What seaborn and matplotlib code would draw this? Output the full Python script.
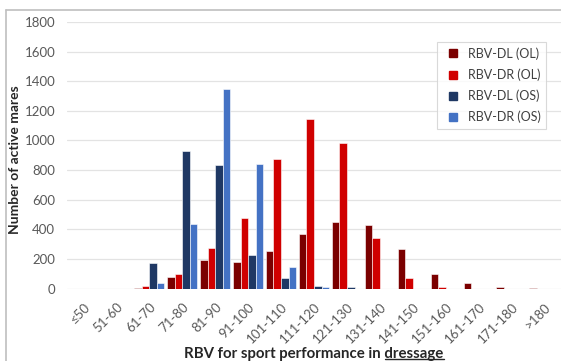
import matplotlib
matplotlib.use("Agg")
import matplotlib.pyplot as plt
import seaborn as sns
import pandas as pd
from matplotlib.lines import Line2D

categories = ["≤50", "51-60", "61-70", "71-80", "81-90", "91-100", "101-110",
              "111-120", "121-130", "131-140", "141-150", "151-160", "161-170",
              "171-180", ">180"]
series_names = ["RBV-DL (OL)", "RBV-DR (OL)", "RBV-DL (OS)", "RBV-DR (OS)"]
dl_ol = [0, 0, 5, 80, 190, 180, 252, 365, 450, 432, 265, 100, 38, 13, 3]
dr_ol = [0, 0, 15, 100, 272, 473, 874, 1146, 986, 340, 73, 10, 0, 0, 0]
dl_os = [0, 0, 175, 929, 837, 223, 74, 15, 7, 0, 0, 0, 0, 0, 0]
dr_os = [0, 0, 40, 433, 1347, 840, 146, 7, 0, 0, 0, 0, 0, 0, 0]
colors = ["#7b0000", "#d00000", "#1f3864", "#4472c4"]

rows = []
for name, vals in zip(series_names, [dl_ol, dr_ol, dl_os, dr_os]):
    for c, v in zip(categories, vals):
        rows.append({"cat": c, "series": name, "value": v})
df = pd.DataFrame(rows)

sns.set_style("white")
plt.rcParams["font.family"] = ["Lato", "DejaVu Sans"]

W, H = 561, 361
fig = plt.figure(figsize=(W/100, H/100), dpi=100)
ax = fig.add_axes([67/W, (H-288.5)/H, 494/W, (288.5-22)/H])

sns.barplot(data=df, x="cat", y="value", hue="series", order=categories,
            hue_order=series_names, palette=colors, width=0.92,
            edgecolor="white", linewidth=0.4, ax=ax, saturation=1)

ax.set_ylim(0, 1800)
ax.set_xlim(-0.5, len(categories) - 0.5)
ax.set_yticks(range(0, 1801, 200))
ax.yaxis.grid(True, color="#e3e3e3", linewidth=0.9)
ax.set_axisbelow(True)
for s in ax.spines.values():
    s.set_visible(False)
ax.tick_params(axis="both", length=0, colors="#595959", labelsize=9.5)
ax.tick_params(axis="y", pad=8.5)
plt.setp(ax.get_xticklabels(), rotation=45, ha="right", va="top",
         rotation_mode="anchor")
ax.tick_params(axis="x", pad=9)

ax.set_ylabel("Number of active mares", fontsize=10, fontweight="bold",
              color="#262626")
ax.yaxis.set_label_coords((15-67)/494, (288.5-160)/266.5)
ax.yaxis.label.set_va("center")
ax.set_xlabel("RBV for sport performance in dressage", fontsize=10.8,
              fontweight="bold", color="#262626")
ax.xaxis.set_label_coords(0.5, (288.5-354)/266.5)
ax.xaxis.label.set_va("center")

handles = [Line2D([], [], marker="s", linestyle="none", markersize=5.2,
                  markerfacecolor=c, markeredgecolor=c) for c in colors]
leg = ax.legend(handles, series_names, loc="upper left",
                bbox_to_anchor=((437-67)/494, (288.5-41.7)/266.5),
                frameon=True, fontsize=9, handlelength=1.6,
                handletextpad=0.4, labelspacing=0.68, borderpad=0.45,
                fancybox=False, edgecolor="#d0d0d0", borderaxespad=0)
for t in leg.get_texts():
    t.set_color("#404040")
leg.get_frame().set_linewidth(0.8)

# chart border (top + left)
fig.add_artist(Line2D([5.5/W, 5.5/W], [0, 1-10/H], color="#bfbfbf",
                      linewidth=1.2, transform=fig.transFigure))
fig.add_artist(Line2D([5.5/W, 1], [1-10/H, 1-10/H], color="#bfbfbf",
                      linewidth=1.2, transform=fig.transFigure))

# underline "dressage"
fig.canvas.draw()
r = fig.canvas.get_renderer()
lab = ax.xaxis.label
bb = lab.get_window_extent(r)
tmp = fig.text(0, 0, "dressage", fontsize=10.8, fontweight="bold")
w = tmp.get_window_extent(r).width
tmp.remove()
y_u = bb.y0 + 2.0
fig.add_artist(Line2D([(bb.x1 - w) / W, bb.x1 / W], [y_u / H, y_u / H],
                      color="#262626", linewidth=1.0, zorder=10,
                      transform=fig.transFigure))

fig.savefig("out.png", dpi=100)
